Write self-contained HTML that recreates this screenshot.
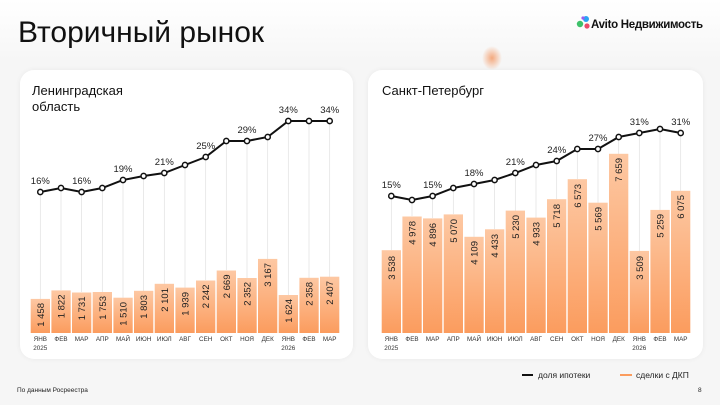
<!DOCTYPE html>
<html><head><meta charset="utf-8"><style>
html,body{margin:0;padding:0;width:720px;height:405px;overflow:hidden;background:#fff}
</style></head><body>
<svg width="720" height="405" viewBox="0 0 720 405" xmlns="http://www.w3.org/2000/svg" font-family="Liberation Sans, DejaVu Sans, sans-serif">
<defs>
<linearGradient id="bg" x1="0" y1="0" x2="0" y2="1"><stop offset="0" stop-color="#ffffff"/><stop offset="0.15" stop-color="#f6f6f6"/><stop offset="1" stop-color="#f6f6f6"/></linearGradient>
<linearGradient id="bar" x1="0" y1="0" x2="0" y2="1"><stop offset="0" stop-color="#fdc8a3"/><stop offset="1" stop-color="#fb9c5e"/></linearGradient>
<radialGradient id="blob" cx="0.5" cy="0.5" r="0.5"><stop offset="0" stop-color="#f4a070" stop-opacity="0.9"/><stop offset="1" stop-color="#f4a070" stop-opacity="0"/></radialGradient>
<filter id="sh" x="-5%" y="-5%" width="110%" height="110%"><feGaussianBlur stdDeviation="3"/></filter>
</defs>
<rect x="0" y="0" width="720" height="405" fill="url(#bg)"/>
<ellipse cx="492" cy="58" rx="10" ry="12" fill="url(#blob)"/>
<rect x="20" y="70" width="333" height="289" rx="14" fill="#000" opacity="0.05" filter="url(#sh)"/>
<rect x="20" y="70" width="333" height="289" rx="14" fill="#fff"/>
<rect x="368" y="70" width="335" height="289" rx="14" fill="#000" opacity="0.05" filter="url(#sh)"/>
<rect x="368" y="70" width="335" height="289" rx="14" fill="#fff"/>

<text x="18" y="42" font-size="30" fill="#111">Вторичный рынок</text>
<circle cx="580" cy="24" r="3.2" fill="#3ec16a"/><circle cx="586" cy="19" r="3" fill="#2aa4f4"/><circle cx="587" cy="26" r="2.6" fill="#ea4a6a"/><circle cx="583" cy="18" r="1.6" fill="#9a5cf0"/>
<text x="591" y="28" font-size="11.5" font-weight="bold" fill="#111" letter-spacing="-0.3">Avito Недвижимость</text>

<text x="32" y="95" font-size="13" fill="#111">Ленинградская</text>
<text x="32" y="111" font-size="13" fill="#111">область</text>
<text x="382" y="95" font-size="13" fill="#111">Санкт-Петербург</text>

<g stroke="#e0e0e0" stroke-width="0.7">
<line x1="40.3" y1="192" x2="40.3" y2="299"/><line x1="61" y1="188" x2="61" y2="290"/><line x1="81.6" y1="192" x2="81.6" y2="292"/><line x1="102.3" y1="188" x2="102.3" y2="292"/><line x1="123" y1="180" x2="123" y2="298"/><line x1="143.6" y1="176" x2="143.6" y2="291"/><line x1="164.3" y1="173" x2="164.3" y2="284"/><line x1="185" y1="165" x2="185" y2="288"/><line x1="205.7" y1="157" x2="205.7" y2="280"/><line x1="226.3" y1="141" x2="226.3" y2="270"/><line x1="247" y1="141" x2="247" y2="278"/><line x1="267.7" y1="137" x2="267.7" y2="259"/><line x1="288.3" y1="121" x2="288.3" y2="295"/><line x1="309" y1="121" x2="309" y2="278"/><line x1="329.7" y1="121" x2="329.7" y2="277"/>
<line x1="391.3" y1="196" x2="391.3" y2="250"/><line x1="412" y1="200" x2="412" y2="216"/><line x1="432.6" y1="196" x2="432.6" y2="218"/><line x1="453.3" y1="188" x2="453.3" y2="214"/><line x1="474" y1="184" x2="474" y2="237"/><line x1="494.6" y1="180" x2="494.6" y2="229"/><line x1="515.3" y1="173" x2="515.3" y2="211"/><line x1="536" y1="165" x2="536" y2="218"/><line x1="556.7" y1="161" x2="556.7" y2="199"/><line x1="577.3" y1="149" x2="577.3" y2="179"/><line x1="598" y1="149" x2="598" y2="203"/><line x1="618.7" y1="137" x2="618.7" y2="154"/><line x1="639.3" y1="133" x2="639.3" y2="251"/><line x1="660" y1="129" x2="660" y2="210"/><line x1="680.7" y1="133" x2="680.7" y2="191"/>
</g>

<g fill="url(#bar)">
<rect x="30.7" y="298.9" width="19.3" height="34.1"/><rect x="51.4" y="290.4" width="19.3" height="42.6"/><rect x="72" y="292.5" width="19.3" height="40.5"/><rect x="92.7" y="292" width="19.3" height="41"/><rect x="113.4" y="297.7" width="19.3" height="35.3"/><rect x="134" y="290.8" width="19.3" height="42.2"/><rect x="154.7" y="283.8" width="19.3" height="49.2"/><rect x="175.4" y="287.6" width="19.3" height="45.4"/><rect x="196" y="280.5" width="19.3" height="52.5"/><rect x="216.7" y="270.5" width="19.3" height="62.5"/><rect x="237.4" y="278" width="19.3" height="55"/><rect x="258" y="258.9" width="19.3" height="74.1"/><rect x="278.7" y="295" width="19.3" height="38"/><rect x="299.4" y="277.8" width="19.3" height="55.2"/><rect x="320" y="276.7" width="19.3" height="56.3"/>
<rect x="381.7" y="250.2" width="19.3" height="82.8"/><rect x="402.4" y="216.5" width="19.3" height="116.5"/><rect x="423" y="218.4" width="19.3" height="114.6"/><rect x="443.7" y="214.4" width="19.3" height="118.6"/><rect x="464.4" y="236.8" width="19.3" height="96.2"/><rect x="485" y="229.3" width="19.3" height="103.7"/><rect x="505.7" y="210.6" width="19.3" height="122.4"/><rect x="526.4" y="217.6" width="19.3" height="115.4"/><rect x="547" y="199.2" width="19.3" height="133.8"/><rect x="567.7" y="179.2" width="19.3" height="153.8"/><rect x="588.4" y="202.7" width="19.3" height="130.3"/><rect x="609" y="153.8" width="19.3" height="179.2"/><rect x="629.7" y="250.9" width="19.3" height="82.1"/><rect x="650.4" y="209.9" width="19.3" height="123.1"/><rect x="671" y="190.8" width="19.3" height="142.2"/>
</g>

<g font-size="9.5" fill="#222" text-anchor="end">
<text transform="translate(43.8,303) rotate(-90)">1 458</text>
<text transform="translate(64.5,294.5) rotate(-90)">1 822</text>
<text transform="translate(85.1,296.5) rotate(-90)">1 731</text>
<text transform="translate(105.8,296) rotate(-90)">1 753</text>
<text transform="translate(126.5,302) rotate(-90)">1 510</text>
<text transform="translate(147.1,295) rotate(-90)">1 803</text>
<text transform="translate(167.8,288) rotate(-90)">2 101</text>
<text transform="translate(188.5,292) rotate(-90)">1 939</text>
<text transform="translate(209.2,284.5) rotate(-90)">2 242</text>
<text transform="translate(229.8,274.5) rotate(-90)">2 669</text>
<text transform="translate(250.5,282) rotate(-90)">2 352</text>
<text transform="translate(271.2,263) rotate(-90)">3 167</text>
<text transform="translate(291.8,299) rotate(-90)">1 624</text>
<text transform="translate(312.5,282) rotate(-90)">2 358</text>
<text transform="translate(333.2,281) rotate(-90)">2 407</text>
<text transform="translate(394.8,256) rotate(-90)">3 538</text>
<text transform="translate(415.5,221) rotate(-90)">4 978</text>
<text transform="translate(436.1,223) rotate(-90)">4 896</text>
<text transform="translate(456.8,219) rotate(-90)">5 070</text>
<text transform="translate(477.5,241) rotate(-90)">4 109</text>
<text transform="translate(498.1,234) rotate(-90)">4 433</text>
<text transform="translate(518.8,215) rotate(-90)">5 230</text>
<text transform="translate(539.5,222) rotate(-90)">4 933</text>
<text transform="translate(560.2,204) rotate(-90)">5 718</text>
<text transform="translate(580.8,184) rotate(-90)">6 573</text>
<text transform="translate(601.5,207) rotate(-90)">5 569</text>
<text transform="translate(622.2,158) rotate(-90)">7 659</text>
<text transform="translate(642.8,256) rotate(-90)">3 509</text>
<text transform="translate(663.5,214) rotate(-90)">5 259</text>
<text transform="translate(684.2,195) rotate(-90)">6 075</text>
</g>

<polyline fill="none" stroke="#111" stroke-width="2" points="40.3,192 61,188 81.6,192 102.3,188 123,180 143.6,176 164.3,173 185,165 205.7,157 226.3,141 247,141 267.7,137 288.3,121 309,121 329.7,121"/>
<polyline fill="none" stroke="#111" stroke-width="2" points="391.3,196 412,200 432.6,196 453.3,188 474,184 494.6,180 515.3,173 536,165 556.7,161 577.3,149 598,149 618.7,137 639.3,133 660,129 680.7,133"/>
<g fill="#fff" stroke="#111" stroke-width="1.5">
<circle cx="40.3" cy="192" r="2.6"/><circle cx="61" cy="188" r="2.6"/><circle cx="81.6" cy="192" r="2.6"/><circle cx="102.3" cy="188" r="2.6"/><circle cx="123" cy="180" r="2.6"/><circle cx="143.6" cy="176" r="2.6"/><circle cx="164.3" cy="173" r="2.6"/><circle cx="185" cy="165" r="2.6"/><circle cx="205.7" cy="157" r="2.6"/><circle cx="226.3" cy="141" r="2.6"/><circle cx="247" cy="141" r="2.6"/><circle cx="267.7" cy="137" r="2.6"/><circle cx="288.3" cy="121" r="2.6"/><circle cx="309" cy="121" r="2.6"/><circle cx="329.7" cy="121" r="2.6"/>
<circle cx="391.3" cy="196" r="2.6"/><circle cx="412" cy="200" r="2.6"/><circle cx="432.6" cy="196" r="2.6"/><circle cx="453.3" cy="188" r="2.6"/><circle cx="474" cy="184" r="2.6"/><circle cx="494.6" cy="180" r="2.6"/><circle cx="515.3" cy="173" r="2.6"/><circle cx="536" cy="165" r="2.6"/><circle cx="556.7" cy="161" r="2.6"/><circle cx="577.3" cy="149" r="2.6"/><circle cx="598" cy="149" r="2.6"/><circle cx="618.7" cy="137" r="2.6"/><circle cx="639.3" cy="133" r="2.6"/><circle cx="660" cy="129" r="2.6"/><circle cx="680.7" cy="133" r="2.6"/>
</g>

<g font-size="9.5" fill="#222" text-anchor="middle">
<text x="40.3" y="184">16%</text><text x="81.6" y="184">16%</text><text x="123" y="172">19%</text><text x="164.3" y="165">21%</text><text x="205.7" y="149">25%</text><text x="247" y="133">29%</text><text x="288.3" y="113">34%</text><text x="329.7" y="113">34%</text>
<text x="391.3" y="188">15%</text><text x="432.6" y="188">15%</text><text x="474" y="176">18%</text><text x="515.3" y="165">21%</text><text x="556.7" y="153">24%</text><text x="598" y="141">27%</text><text x="639.3" y="125">31%</text><text x="680.7" y="125">31%</text>
</g>

<g font-size="6.3" fill="#333" text-anchor="middle">
<text x="40.3" y="341">ЯНВ</text><text x="40.3" y="350">2025</text><text x="61" y="341">ФЕВ</text><text x="81.6" y="341">МАР</text><text x="102.3" y="341">АПР</text><text x="123" y="341">МАЙ</text><text x="143.6" y="341">ИЮН</text><text x="164.3" y="341">ИЮЛ</text><text x="185" y="341">АВГ</text><text x="205.7" y="341">СЕН</text><text x="226.3" y="341">ОКТ</text><text x="247" y="341">НОЯ</text><text x="267.7" y="341">ДЕК</text><text x="288.3" y="341">ЯНВ</text><text x="288.3" y="350">2026</text><text x="309" y="341">ФЕВ</text><text x="329.7" y="341">МАР</text>
<text x="391.3" y="341">ЯНВ</text><text x="391.3" y="350">2025</text><text x="412" y="341">ФЕВ</text><text x="432.6" y="341">МАР</text><text x="453.3" y="341">АПР</text><text x="474" y="341">МАЙ</text><text x="494.6" y="341">ИЮН</text><text x="515.3" y="341">ИЮЛ</text><text x="536" y="341">АВГ</text><text x="556.7" y="341">СЕН</text><text x="577.3" y="341">ОКТ</text><text x="598" y="341">НОЯ</text><text x="618.7" y="341">ДЕК</text><text x="639.3" y="341">ЯНВ</text><text x="639.3" y="350">2026</text><text x="660" y="341">ФЕВ</text><text x="680.7" y="341">МАР</text>
</g>

<line x1="522" y1="375" x2="533" y2="375" stroke="#111" stroke-width="2"/>
<text x="538" y="378" font-size="8.5" fill="#222">доля ипотеки</text>
<line x1="620" y1="375" x2="632" y2="375" stroke="#fb9c5e" stroke-width="2"/>
<text x="636" y="378" font-size="8.5" fill="#222">сделки с ДКП</text>

<text x="17" y="392" font-size="6.5" fill="#222">По данным Росреестра</text>
<text x="698" y="392" font-size="6.5" fill="#222">8</text>
</svg>
</body></html>
